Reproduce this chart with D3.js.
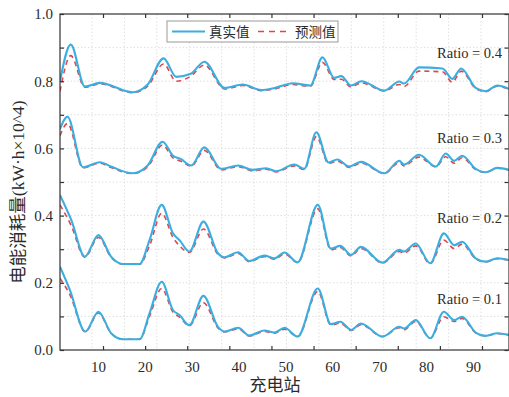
<!DOCTYPE html>
<html>
<head>
<meta charset="utf-8">
<script src="https://cdn.jsdelivr.net/npm/d3@7"></script>
<style>
    body { margin: 0; background: #fff; }
</style>
</head>
<body>
<svg id="chart" width="509" height="397"></svg>
<script>
// ratio groups, top to bottom
var ratioNames = ["Ratio = 0.4", "Ratio = 0.3", "Ratio = 0.2", "Ratio = 0.1"];
var legendNames = ["真实值", "预测值"];
var xTickValues = [10, 20, 30, 40, 50, 60, 70, 80, 90];
var yTickValues = [0, 0.1, 0.2, 0.3, 0.4, 0.5, 0.6, 0.7, 0.8, 0.9, 1.0];

// Ratio = 0.4
var r4X = [1.9, 4.2, 7.2, 10.4, 17.4, 20.6, 24.0, 26.7, 29.8, 32.7, 37.0, 40.9, 44.8, 47.7, 51.6, 55.3, 57.9, 60.4, 61.9, 64.0, 66.2, 71.1, 74.3, 75.3, 78.5, 83.5, 85.6, 87.5, 90.6, 92.7, 95.2, 97.7];
var r4Real = [0.800, 0.909, 0.784, 0.795, 0.767, 0.790, 0.868, 0.813, 0.822, 0.858, 0.780, 0.790, 0.774, 0.780, 0.794, 0.787, 0.871, 0.810, 0.815, 0.787, 0.800, 0.772, 0.799, 0.793, 0.841, 0.838, 0.807, 0.838, 0.780, 0.770, 0.787, 0.777];
var r4Pred = [0.770, 0.876, 0.782, 0.792, 0.766, 0.785, 0.851, 0.800, 0.815, 0.848, 0.777, 0.787, 0.772, 0.777, 0.790, 0.785, 0.856, 0.805, 0.806, 0.783, 0.795, 0.771, 0.790, 0.784, 0.830, 0.828, 0.797, 0.830, 0.778, 0.769, 0.785, 0.776];

// Ratio = 0.3
var r3X = [1.9, 3.5, 6.8, 10.4, 12.8, 17.4, 20.6, 23.8, 26.0, 27.7, 29.9, 32.7, 36.3, 39.9, 43.0, 45.9, 48.0, 51.9, 54.0, 56.6, 59.2, 61.1, 63.6, 66.1, 71.1, 74.3, 75.3, 78.5, 82.1, 84.2, 86.0, 87.7, 90.6, 92.7, 95.2, 97.7];
var r3Real = [0.658, 0.694, 0.544, 0.559, 0.546, 0.526, 0.549, 0.620, 0.578, 0.568, 0.549, 0.603, 0.539, 0.549, 0.536, 0.541, 0.532, 0.552, 0.539, 0.648, 0.558, 0.567, 0.546, 0.560, 0.526, 0.563, 0.552, 0.581, 0.546, 0.585, 0.563, 0.578, 0.539, 0.529, 0.542, 0.536];
var r3Pred = [0.638, 0.674, 0.542, 0.556, 0.543, 0.525, 0.545, 0.610, 0.572, 0.562, 0.547, 0.594, 0.536, 0.546, 0.533, 0.538, 0.530, 0.548, 0.537, 0.635, 0.555, 0.562, 0.543, 0.556, 0.525, 0.558, 0.548, 0.574, 0.545, 0.575, 0.556, 0.572, 0.537, 0.528, 0.541, 0.535];

// Ratio = 0.2
var r2X = [1.9, 4.3, 7.2, 10.1, 12.8, 15.3, 18.9, 21.0, 23.6, 26.0, 27.4, 29.5, 32.5, 35.6, 37.0, 39.9, 42.3, 45.5, 47.7, 49.8, 52.6, 56.9, 59.7, 61.7, 64.0, 66.1, 70.7, 74.3, 75.3, 77.8, 80.9, 83.8, 86.0, 87.7, 90.6, 92.7, 95.2, 97.7];
var r2Real = [0.461, 0.387, 0.278, 0.342, 0.278, 0.256, 0.256, 0.327, 0.432, 0.347, 0.327, 0.293, 0.382, 0.288, 0.276, 0.291, 0.265, 0.281, 0.273, 0.290, 0.261, 0.432, 0.302, 0.310, 0.283, 0.307, 0.260, 0.298, 0.293, 0.317, 0.258, 0.347, 0.312, 0.322, 0.273, 0.263, 0.273, 0.268];
var r2Pred = [0.432, 0.370, 0.276, 0.335, 0.276, 0.255, 0.255, 0.310, 0.407, 0.335, 0.310, 0.290, 0.360, 0.285, 0.274, 0.287, 0.263, 0.278, 0.270, 0.286, 0.260, 0.420, 0.298, 0.305, 0.280, 0.302, 0.259, 0.293, 0.288, 0.310, 0.257, 0.327, 0.302, 0.315, 0.271, 0.262, 0.272, 0.267];

// Ratio = 0.1
var r1X = [1.9, 4.0, 7.3, 10.1, 12.8, 15.3, 18.9, 21.0, 23.6, 26.0, 27.4, 29.5, 32.5, 35.6, 37.0, 39.9, 42.3, 45.5, 47.7, 49.8, 52.6, 56.9, 59.7, 61.7, 64.0, 66.1, 70.7, 74.3, 75.3, 77.8, 80.9, 83.8, 86.0, 87.7, 90.6, 92.7, 95.2, 97.7];
var r1Real = [0.248, 0.179, 0.055, 0.114, 0.050, 0.032, 0.032, 0.109, 0.203, 0.119, 0.104, 0.074, 0.161, 0.069, 0.055, 0.066, 0.043, 0.058, 0.052, 0.066, 0.040, 0.183, 0.077, 0.084, 0.060, 0.079, 0.040, 0.069, 0.064, 0.089, 0.035, 0.114, 0.089, 0.099, 0.052, 0.042, 0.050, 0.045];
var r1Pred = [0.213, 0.165, 0.054, 0.110, 0.050, 0.032, 0.032, 0.100, 0.183, 0.113, 0.098, 0.072, 0.141, 0.066, 0.054, 0.063, 0.042, 0.055, 0.050, 0.062, 0.040, 0.174, 0.074, 0.080, 0.058, 0.075, 0.040, 0.066, 0.060, 0.085, 0.035, 0.099, 0.085, 0.094, 0.051, 0.042, 0.049, 0.045];

var groups = [
    { x: r4X, real: r4Real, pred: r4Pred },
    { x: r3X, real: r3Real, pred: r3Pred },
    { x: r2X, real: r2Real, pred: r2Pred },
    { x: r1X, real: r1Real, pred: r1Pred }
];

var pLeft = 60, pTop = 14, pRight = 509, pBottom = 350; // plot area edges
var blue = "#3aaee0", red = "#e0474c";
var serif = "'Liberation Serif', 'Times New Roman', serif";
var cjk = "'Liberation Serif', 'Noto Sans CJK SC', serif";
var ink = "#2b2b2b";

var svg = d3.select("#chart");

var x = d3.scaleLinear().domain([1.9, 97.7]).range([pLeft, pRight]);
var y = d3.scaleLinear().domain([0, 1]).range([pBottom, pTop]);

// the source draws its grid and tick marks on their own spacing
var gridScale = d3.scaleLinear().domain([0, 12]).range([92, 481]);
var tickScale = d3.scaleLinear().domain([0, 9]).range([103, 482]);

// grid
svg.append("g").selectAll("line")
    .data(d3.range(13))
    .enter().append("line")
    .attr("x1", function (d) { return gridScale(d); })
    .attr("x2", function (d) { return gridScale(d); })
    .attr("y1", pTop).attr("y2", pBottom)
    .attr("stroke", "#d8d8d8").attr("stroke-width", 0.8)
    .attr("stroke-dasharray", "1.5,2");

svg.append("g").selectAll("line")
    .data(yTickValues.slice(1, -1))
    .enter().append("line")
    .attr("x1", pLeft).attr("x2", pRight)
    .attr("y1", function (d) { return y(d); })
    .attr("y2", function (d) { return y(d); })
    .attr("stroke", "#d8d8d8").attr("stroke-width", 0.8)
    .attr("stroke-dasharray", "1.5,2");

// lines
svg.append("clipPath").attr("id", "clip")
    .append("rect").attr("x", pLeft).attr("y", pTop)
    .attr("width", pRight - pLeft).attr("height", pBottom - pTop);

var plot = svg.append("g").attr("clip-path", "url(#clip)");

function makeLine(xs) {
    return d3.line()
        .x(function (d, i) { return x(xs[i]); })
        .y(function (d) { return y(d); })
        .curve(d3.curveMonotoneX);
}

groups.forEach(function (g) {
    plot.append("path")
        .attr("d", makeLine(g.x)(g.pred))
        .attr("fill", "none")
        .attr("stroke", red)
        .attr("stroke-width", 1.6)
        .attr("stroke-dasharray", "5,4");
    plot.append("path")
        .attr("d", makeLine(g.x)(g.real))
        .attr("fill", "none")
        .attr("stroke", blue)
        .attr("stroke-width", 2.1);
});

// frame
svg.append("rect")
    .attr("x", pLeft).attr("y", pTop)
    .attr("width", pRight - pLeft).attr("height", pBottom - pTop)
    .attr("fill", "none").attr("stroke", "#333").attr("stroke-width", 1.2);

// inward tick marks
var markBottom = svg.append("g").attr("transform", "translate(0," + pBottom + ")")
    .call(d3.axisBottom(tickScale).tickValues(d3.range(10)).tickSize(-4).tickFormat(""));
var markTop = svg.append("g").attr("transform", "translate(0," + pTop + ")")
    .call(d3.axisTop(tickScale).tickValues(d3.range(10)).tickSize(-4).tickFormat(""));
var markLeft = svg.append("g").attr("transform", "translate(" + pLeft + ",0)")
    .call(d3.axisLeft(y).tickValues(yTickValues).tickSize(-4).tickFormat(""));
var markRight = svg.append("g").attr("transform", "translate(" + (pRight - 0.5) + ",0)")
    .call(d3.axisRight(y).tickValues(yTickValues).tickSize(-4).tickFormat(""));
[markBottom, markTop, markLeft, markRight].forEach(function (g) {
    g.select(".domain").remove();
    g.selectAll("line").attr("stroke", "#333").attr("stroke-width", 1.2);
});

// tick labels
var xLab = svg.append("g").attr("transform", "translate(0," + pBottom + ")")
    .call(d3.axisBottom(x).tickValues(xTickValues).tickSize(0).tickPadding(11));
var yLab = svg.append("g").attr("transform", "translate(" + pLeft + ",0)")
    .call(d3.axisLeft(y).tickValues(yTickValues.filter(function (d, i) { return i % 2 == 0; }))
        .tickSize(0).tickPadding(7).tickFormat(d3.format(".1f")));
[xLab, yLab].forEach(function (g) {
    g.select(".domain").remove();
    g.attr("font-family", null).attr("font-size", null);
    g.selectAll("text")
        .style("font-family", serif)
        .style("font-size", "15px")
        .attr("fill", ink);
});

// axis titles
svg.append("text")
    .attr("x", 275).attr("y", 391)
    .attr("text-anchor", "middle")
    .style("font-family", cjk)
    .style("font-size", "17px")
    .attr("fill", ink)
    .text("充电站");

svg.append("text")
    .attr("transform", "translate(24,192) rotate(-90)")
    .attr("text-anchor", "middle")
    .style("font-family", cjk)
    .style("font-size", "17.5px")
    .attr("fill", ink)
    .text("电能消耗量(kW·h×10^4)");

// ratio labels
var ratioY = [0.869, 0.616, 0.378, 0.137];
svg.append("g").selectAll("text")
    .data(ratioNames)
    .enter().append("text")
    .attr("x", 502)
    .attr("y", function (d, i) { return y(ratioY[i]); })
    .attr("text-anchor", "end")
    .style("font-family", serif)
    .style("font-size", "14.5px")
    .attr("fill", ink)
    .text(function (d) { return d; });

// legend
var legend = svg.append("g").attr("transform", "translate(167,21)");
legend.append("rect")
    .attr("width", 171).attr("height", 21)
    .attr("fill", "#fff").attr("stroke", "#999").attr("stroke-width", 1);
var legendStyles = [
    { color: blue, dash: null, width: 2 },
    { color: red, dash: "6,5", width: 1.6 }
];
legendNames.forEach(function (name, i) {
    var ox = i * 86;
    legend.append("line")
        .attr("x1", ox + 5).attr("x2", ox + 38)
        .attr("y1", 10.5).attr("y2", 10.5)
        .attr("stroke", legendStyles[i].color)
        .attr("stroke-width", legendStyles[i].width)
        .attr("stroke-dasharray", legendStyles[i].dash);
    legend.append("text")
        .attr("x", ox + 42).attr("y", 15.5)
        .style("font-family", cjk)
        .style("font-size", "13.5px")
        .attr("fill", ink)
        .text(name);
});
</script>
</body>
</html>
